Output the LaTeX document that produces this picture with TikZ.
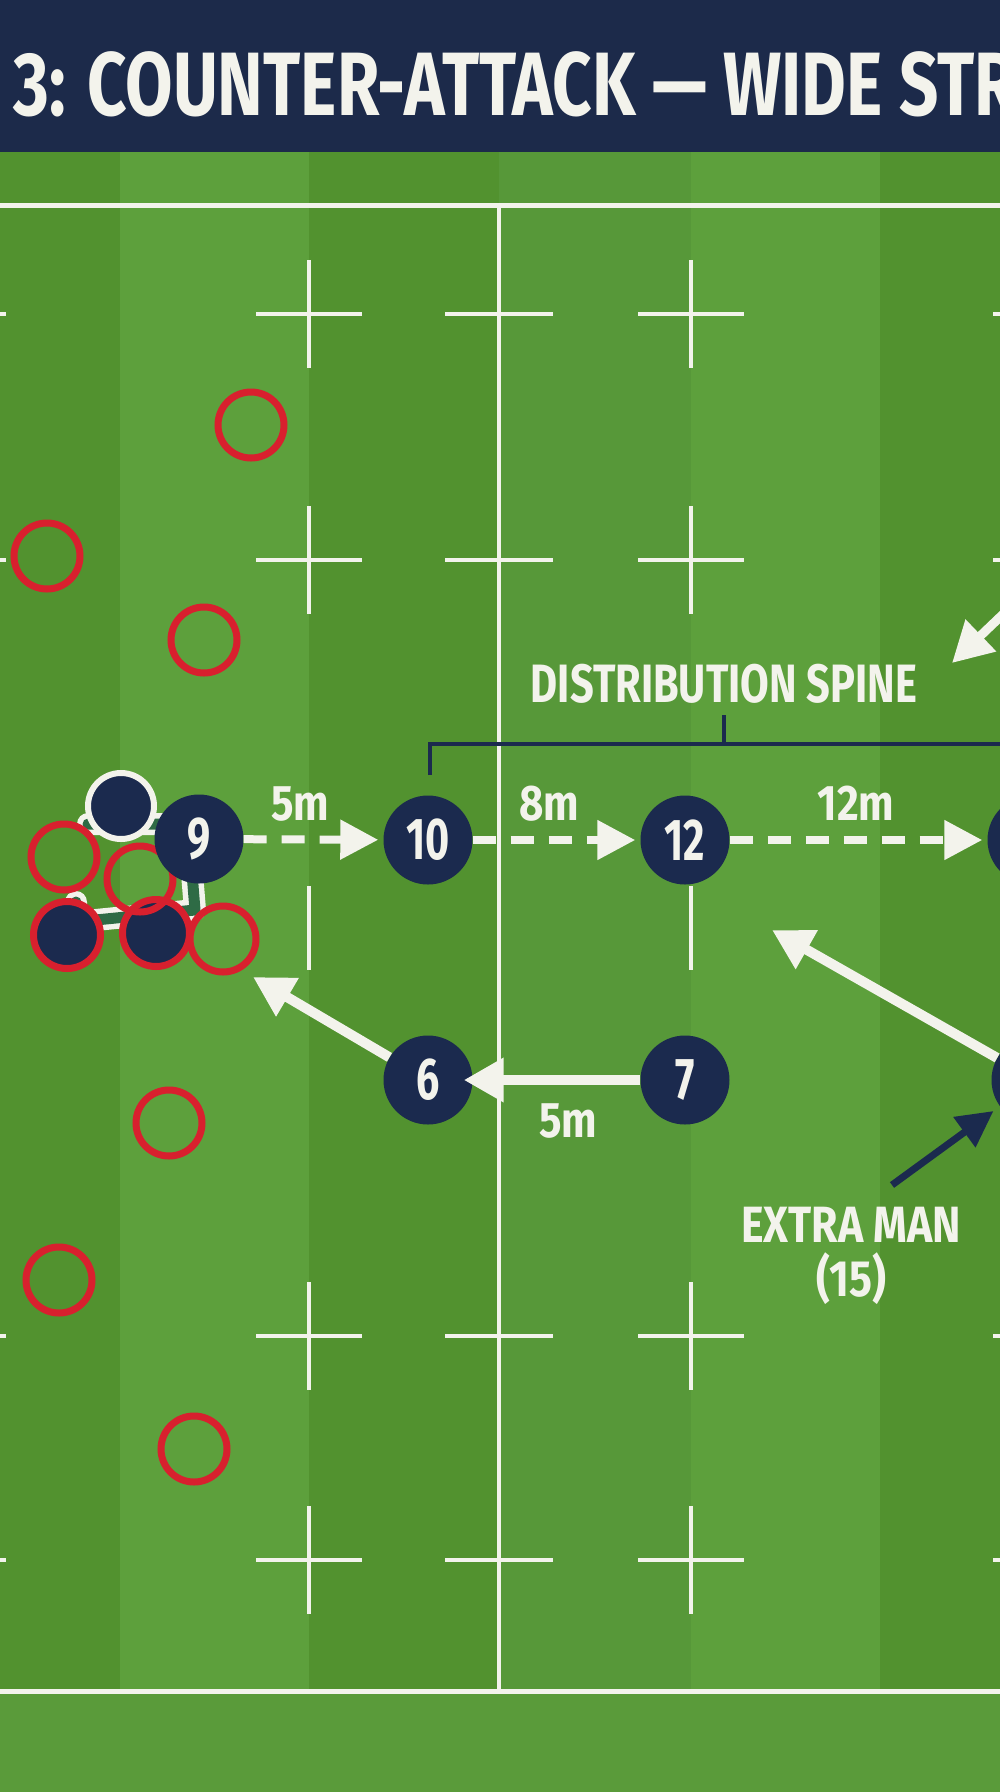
\documentclass[tikz,border=0pt]{standalone}
\usepackage{fontspec}
\usetikzlibrary{arrows.meta}
\newfontfamily\cf[FakeStretch=0.7]{Fira Sans}
\newfontfamily\cft[FakeStretch=0.765]{Fira Sans}
\newfontfamily\cfs[FakeStretch=0.77]{Fira Sans}
\newfontfamily\cfw[FakeStretch=0.84]{Fira Sans}
\definecolor{navy}{HTML}{1B2A4E}
\definecolor{hdr}{HTML}{1C2A4A}
\definecolor{gdark}{HTML}{52922F}
\definecolor{gmid}{HTML}{579839}
\definecolor{glight}{HTML}{5DA03C}
\definecolor{gbase}{HTML}{5A9B3A}
\definecolor{rred}{HTML}{D8202E}
\definecolor{lw}{HTML}{F3F3EC}
\definecolor{bindteal}{HTML}{2E6B45}
\begin{document}
\begin{tikzpicture}[x=1pt,y=-1pt,
  player/.style={circle,fill=navy,minimum size=89pt,inner sep=0pt,text=lw,
    font=\cf\bfseries\fontsize{59pt}{59pt}\selectfont},
  opp/.style={circle,draw=rred,line width=7pt,minimum size=66pt,inner sep=0pt},
  oppfill/.style={circle,draw=rred,fill=navy,line width=7pt,minimum size=67pt,inner sep=0pt},
  ruckmate/.style={circle,draw=lw,fill=navy,line width=6pt,minimum size=66pt,inner sep=0pt},
  pitchline/.style={draw=lw,line width=4pt},
  dline/.style={draw=lw,line width=8pt,dash pattern=on 23pt off 15pt,
    -{Triangle[length=38pt,width=38pt]},shorten >=5pt},
  wline/.style={draw=lw,line width=10pt,-{Triangle[length=40pt,width=42pt]}},
  narrowline/.style={draw=navy,line width=7pt,-{Triangle[length=36pt,width=36pt]}},
  lbl/.style={text=lw,inner sep=0pt,font=\cfw\bfseries\fontsize{50pt}{50pt}\selectfont},
  biglbl/.style={text=lw,inner sep=0pt,font=\cfs\bfseries\fontsize{54pt}{54pt}\selectfont},
  bind/.style={line join=round,line cap=round},
]
\useasboundingbox (0,0) rectangle (1000,1792);
\clip (0,0) rectangle (1000,1792);
% pitch stripes
\fill[gdark]  (0,152) rectangle (120,1691);
\fill[glight] (120,152) rectangle (309,1691);
\fill[gdark]  (309,152) rectangle (499,1691);
\fill[gmid]   (499,152) rectangle (691,1691);
\fill[glight] (691,152) rectangle (880,1691);
\fill[gdark]  (880,152) rectangle (1000,1691);
\fill[gbase]  (0,1691) rectangle (1000,1792);
% header
\fill[hdr] (0,0) rectangle (1000,152);
\node[anchor=base west,inner sep=0pt,text=lw,font=\cft\bfseries\fontsize{90pt}{90pt}\selectfont]
  (title) at (13,115) {3: COUNTER-ATTACK — WIDE STR};
% pitch lines
\draw[pitchline,line width=5pt] (-5,205) -- (1005,205);
\draw[pitchline,line width=5pt] (-5,1691) -- (1005,1691);
\draw[pitchline] (499,205) -- (499,1691);
\foreach \y in {314,560,1336,1560}{
  \foreach \x in {-47,309,691,1046}{
    \draw[pitchline] (\x-53,\y) -- (\x+53,\y);
    \draw[pitchline] (\x,\y-54) -- (\x,\y+54);
  }
  \draw[pitchline] (445,\y) -- (553,\y);
}
\draw[pitchline] (309,886) -- (309,970);
\draw[pitchline] (691,886) -- (691,970);
% bracket
\draw[navy,line width=4pt] (430,775) -- (430,744) -- (1005,744);
\draw[navy,line width=4pt] (724,744) -- (724,715);
\node[biglbl,anchor=base] (spine) at (724,702) {DISTRIBUTION SPINE};
% opponents
\node[opp] (o1) at (251,425) {};
\node[opp] (o2) at (47,556) {};
\node[opp] (o3) at (204,640) {};
\node[opp] (o4) at (169,1123) {};
\node[opp] (o5) at (59,1280) {};
\node[opp] (o6) at (194,1449) {};
% ruck binding frame
\draw[bind,draw=lw,line width=22pt] (88,824) -- (188,824) -- (195,910) -- (76,922) -- (76,902);
\draw[bind,draw=bindteal,line width=11pt] (88,824) -- (188,824) -- (195,910) -- (76,922) -- (76,902);
\node[ruckmate] (r1) at (121,806) {};
\node[oppfill] (r2) at (67,935) {};
\node[oppfill] (r3) at (156,933) {};
\node[opp] (r4) at (64,857) {};
\node[opp] (r5) at (140,879) {};
\node[opp] (r6) at (223,939) {};
% attackers
\node[player] (n9) at (199,839) {9};
\node[player] (n10) at (428,840) {10};
\node[player] (n12) at (685,840) {12};
\node[player] (nR) at (1032,840) {};
\node[player] (n6) at (428,1080) {6};
\node[player] (n7) at (685,1080) {7};
\node[player] (n15) at (1036,1080) {};
% pass arrows
\draw[dline] (n9) -- (n10);
\draw[dline] (n10) -- (n12);
\draw[dline] (n12) -- (nR);
\node[lbl,anchor=base] (d1) at (300,820) {5m};
\node[lbl,anchor=base] (d2) at (549,820) {8m};
\node[lbl,anchor=base] (d3) at (856,820) {12m};
% support runs
\coordinate (t6) at (253,977);
\coordinate (t15) at (772,930);
\coordinate (tr1) at (1020,598);
\coordinate (tr2) at (952,663);
\draw[wline] (n7) -- ([xshift=-9pt]n6.east);
\node[lbl,anchor=base] (d4) at (568,1137) {5m};
\draw[wline] (n6) -- (t6);
\draw[wline] (n15) -- (t15);
\draw[wline,line width=9pt] (tr1) -- (tr2);
% extra man
\node[text=lw,inner sep=0pt,align=center,font=\cfw\bfseries\fontsize{51pt}{54pt}\selectfont]
  (extra) at (851,1256) {EXTRA MAN\\(15)};
\coordinate (emt) at (892,1185);
\draw[narrowline,shorten >=8pt] (emt) -- (n15);
\end{tikzpicture}
\end{document}
